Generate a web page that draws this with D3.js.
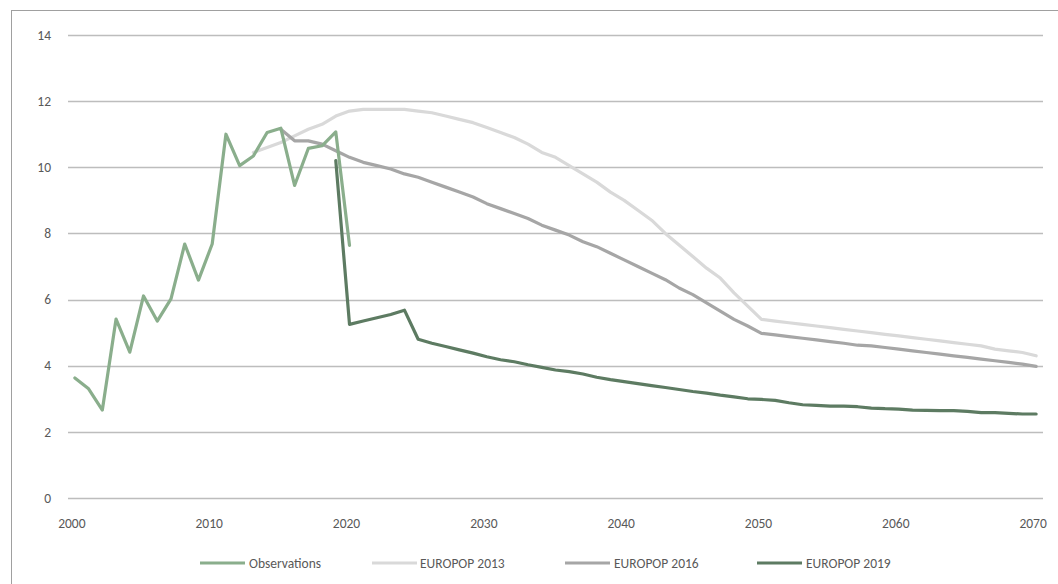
<!DOCTYPE html>
<html>
<head>
<meta charset="utf-8">
<script src="https://cdn.jsdelivr.net/npm/d3@7/dist/d3.min.js"></script>
<style>
  html, body { margin: 0; padding: 0; background: #fff; }
  svg { display: block; font-family: Carlito, Lato, "Open Sans", sans-serif; }
</style>
</head>
<body>
<svg id="chart" width="1058" height="584"></svg>
<script>
// ---- data ----
const xTickLabels = ["2000", "2010", "2020", "2030", "2040", "2050", "2060", "2070"];
const yTickLabels = ["0", "2", "4", "6", "8", "10", "12", "14"];
const seriesNames = ["Observations", "EUROPOP 2013", "EUROPOP 2016", "EUROPOP 2019"];

const obsStart = 2000;
const observations = [3.63, 3.3, 2.66, 5.41, 4.41, 6.11, 5.35, 6.02, 7.68, 6.59, 7.68,
  11.0, 10.05, 10.34, 11.05, 11.18, 9.45, 10.57, 10.65, 11.07, 7.64];

const ep13Start = 2013;
const europop2013 = [10.45, 10.6, 10.75, 10.95, 11.15, 11.3, 11.55, 11.7, 11.75, 11.75,
  11.75, 11.75, 11.7, 11.65, 11.55, 11.45, 11.35, 11.2, 11.05, 10.9,
  10.7, 10.45, 10.3, 10.05, 9.8, 9.55, 9.25, 9.0, 8.7, 8.4,
  8.0, 7.65, 7.3, 6.95, 6.65, 6.2, 5.8, 5.4, 5.35, 5.3,
  5.25, 5.2, 5.15, 5.1, 5.05, 5.0, 4.95, 4.9, 4.85, 4.8,
  4.75, 4.7, 4.65, 4.6, 4.5, 4.45, 4.4, 4.3];

const ep16Start = 2015;
const europop2016 = [11.15, 10.8, 10.8, 10.7, 10.5, 10.3, 10.15, 10.05, 9.95, 9.8,
  9.7, 9.55, 9.4, 9.25, 9.1, 8.9, 8.75, 8.6, 8.45, 8.25,
  8.1, 7.95, 7.75, 7.6, 7.4, 7.2, 7.0, 6.8, 6.6, 6.35,
  6.15, 5.9, 5.65, 5.4, 5.2, 4.98, 4.93, 4.88, 4.83, 4.78,
  4.73, 4.68, 4.62, 4.6, 4.55, 4.5, 4.45, 4.4, 4.35, 4.3,
  4.25, 4.2, 4.15, 4.1, 4.05, 3.98];

const ep19Start = 2019;
const europop2019 = [10.2, 5.25, 5.35, 5.45, 5.55, 5.68, 4.8, 4.68, 4.58, 4.48,
  4.38, 4.27, 4.18, 4.12, 4.03, 3.95, 3.87, 3.82, 3.75, 3.65,
  3.58, 3.52, 3.46, 3.4, 3.34, 3.28, 3.22, 3.17, 3.11, 3.06,
  3.0, 2.98, 2.95, 2.88, 2.82, 2.8, 2.78, 2.78, 2.76, 2.72,
  2.7, 2.69, 2.66, 2.65, 2.64, 2.64, 2.62, 2.58, 2.58, 2.56,
  2.54, 2.54];

// ---- layout ----
const svg = d3.select("#chart");
const colors = ["#8aae8c", "#d9d9d9", "#a6a6a6", "#5d7b62"];

const x = d3.scaleLinear().domain([1999.5, 2070.5]).range([68, 1043]);
const y = d3.scaleLinear().domain([0, 14]).range([498, 35]);

// frame
svg.append("rect")
  .attr("x", 11.5).attr("y", 10.5)
  .attr("width", 1100).attr("height", 600)
  .attr("fill", "none").attr("stroke", "#a0a0a0").attr("stroke-width", 1);

// gridlines
const yVals = yTickLabels.map(Number);
svg.append("g").selectAll("line").data(yVals).join("line")
  .attr("x1", x.range()[0]).attr("x2", x.range()[1])
  .attr("y1", d => Math.round(y(d)) + 0.5).attr("y2", d => Math.round(y(d)) + 0.5)
  .attr("stroke", "#bdbdbd").attr("stroke-width", 1.4);

// y labels
svg.append("g").selectAll("text").data(yTickLabels).join("text")
  .attr("x", 51).attr("y", d => y(+d))
  .attr("dy", "0.35em").attr("text-anchor", "end")
  .attr("font-size", 13.5).attr("fill", "#595959")
  .text(d => d);

// x labels
svg.append("g").selectAll("text").data(xTickLabels).join("text")
  .attr("x", d => x(+d) - 3).attr("y", 523)
  .attr("dy", "0.35em").attr("text-anchor", "middle")
  .attr("font-size", 13.5).attr("fill", "#595959")
  .text(d => d);

// lines
const series = [
  { start: obsStart, vals: observations },
  { start: ep13Start, vals: europop2013 },
  { start: ep16Start, vals: europop2016 },
  { start: ep19Start, vals: europop2019 }
];
const line = d3.line().x(d => x(d[0])).y(d => y(d[1]));
const drawOrder = [1, 2, 0, 3];
drawOrder.forEach(i => {
  const s = series[i];
  const pts = s.vals.map((v, k) => [s.start + k, v]);
  svg.append("path")
    .datum(pts)
    .attr("d", line)
    .attr("fill", "none")
    .attr("stroke", colors[i])
    .attr("stroke-width", 3.2)
    .attr("stroke-linejoin", "round")
    .attr("stroke-linecap", "round");
});

// legend
const legendItems = [
  { x: 200, tx: 249 },
  { x: 372, tx: 420 },
  { x: 565, tx: 614 },
  { x: 757, tx: 806 }
];
const lg = svg.append("g");
seriesNames.forEach((name, i) => {
  lg.append("line")
    .attr("x1", legendItems[i].x).attr("x2", legendItems[i].x + 45)
    .attr("y1", 563).attr("y2", 563)
    .attr("stroke", colors[i]).attr("stroke-width", 3.2);
  lg.append("text")
    .attr("x", legendItems[i].tx).attr("y", 563)
    .attr("dy", "0.35em")
    .attr("font-size", 13.5).attr("fill", "#595959")
    .text(name);
});
</script>
</body>
</html>
